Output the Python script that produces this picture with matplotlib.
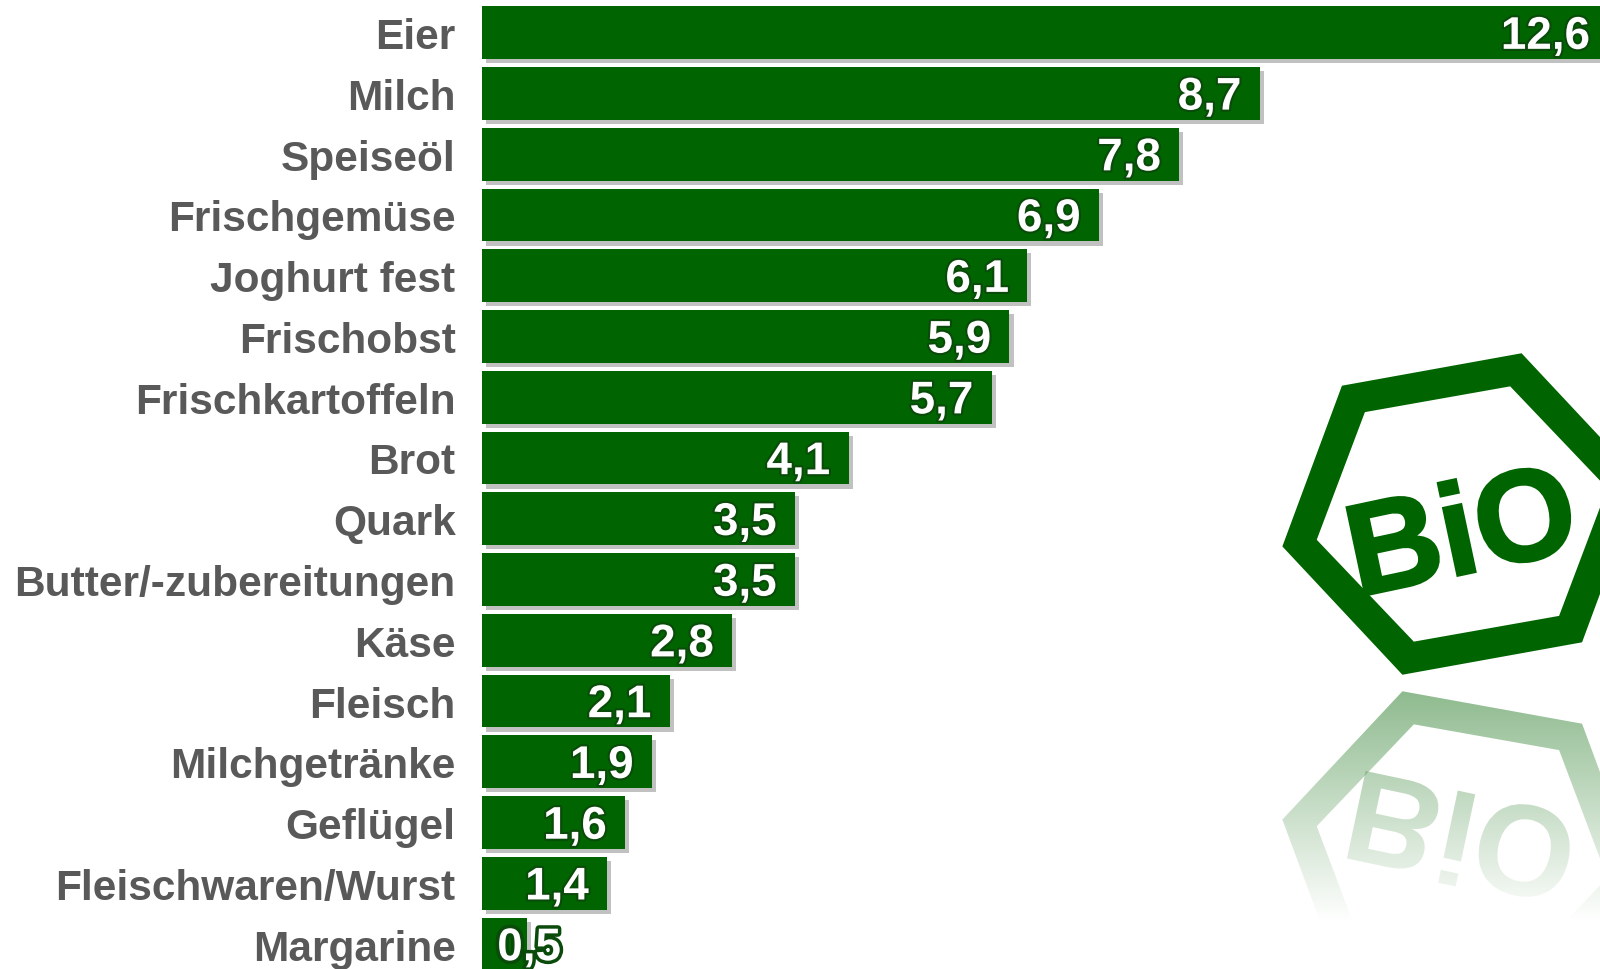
import matplotlib
matplotlib.use('Agg')
import matplotlib.pyplot as plt
import numpy as np
from matplotlib import patheffects as pe
from matplotlib.patches import PathPatch
from matplotlib.path import Path
from matplotlib.textpath import TextPath
from matplotlib.font_manager import FontProperties
from matplotlib.transforms import Affine2D

categories = ["Eier", "Milch", "Speiseöl", "Frischgemüse", "Joghurt fest", "Frischobst",
              "Frischkartoffeln", "Brot", "Quark", "Butter/-zubereitungen", "Käse", "Fleisch",
              "Milchgetränke", "Geflügel", "Fleischwaren/Wurst", "Margarine"]
values = [12.6, 8.7, 7.8, 6.9, 6.1, 5.9, 5.7, 4.1, 3.5, 3.5, 2.8, 2.1, 1.9, 1.6, 1.4, 0.5]
value_labels = ["12,6", "8,7", "7,8", "6,9", "6,1", "5,9", "5,7", "4,1", "3,5", "3,5",
                "2,8", "2,1", "1,9", "1,6", "1,4", "0,5"]

GREEN = '#006400'
GRAY = '#595959'
FONT = 'Liberation Sans'

fig = plt.figure(figsize=(16, 9.7), dpi=100)
fig.patch.set_facecolor('white')

# ---- decorative BIO logo (pixel coordinate overlay) ----
lax = fig.add_axes([0, 0, 1, 1], zorder=0)
lax.set_xlim(0, 1600)
lax.set_ylim(970, 0)
lax.axis('off')

cx, cy = 1462, 515
angles = np.deg2rad(169 + 60 * np.arange(6))


def hexagon(rx, ry):
    return np.column_stack([cx + rx * np.cos(angles), cy + ry * np.sin(angles)])


outer = hexagon(183, 170)
inner = hexagon(148, 135)[::-1]
verts = np.vstack([outer, outer[:1], inner, inner[:1]])
codes = ([Path.MOVETO] + [Path.LINETO] * 5 + [Path.CLOSEPOLY]) * 2
ring = Path(verts, codes)
mirror = Affine2D().scale(1, -1).translate(0, 2 * 684)

lax.add_patch(PathPatch(ring, facecolor=GREEN, edgecolor='none', zorder=3))
lax.add_patch(PathPatch(mirror.transform_path(ring), facecolor=GREEN, edgecolor='none',
                        alpha=0.45, zorder=2))

tp = TextPath((0, 0), "BiO", size=130, prop=FontProperties(family=FONT, weight='bold'))
bb = tp.get_extents()
tr = (Affine2D().translate(-(bb.x0 + bb.x1) / 2, -(bb.y0 + bb.y1) / 2)
      .scale(1, -1).rotate_deg(-12).translate(1462, 528))
lax.add_patch(PathPatch(tr.transform_path(tp), facecolor=GREEN, edgecolor=GREEN, lw=2, zorder=3))
lax.add_patch(PathPatch((tr + mirror).transform_path(tp), facecolor=GREEN, edgecolor='none',
                        alpha=0.45, zorder=2))

grad = np.ones((200, 2, 4))
grad[:, :, 3] = np.clip(np.linspace(0, 1.25, 200), 0, 1)[:, None]
lax.imshow(grad, extent=(1200, 1600, 980, 686), aspect='auto', zorder=4)
lax.set_xlim(0, 1600)
lax.set_ylim(970, 0)

# ---- bar chart ----
ax = fig.add_axes([0.30125, -0.0056, 0.704, 1.0022], zorder=1)
ax.patch.set_alpha(0)
y = np.arange(len(categories))
bars = ax.barh(y, values, height=0.87, color=GREEN)
for b in bars:
    b.set_path_effects([pe.SimplePatchShadow(offset=(3, -3), shadow_rgbFace='#777777', alpha=0.45),
                        pe.Normal()])
ax.set_xlim(0, 12.6)
ax.set_ylim(len(categories) - 0.5, -0.5)
for s in ax.spines.values():
    s.set_visible(False)
ax.set_xticks([])
ax.set_yticks(y)
ax.set_yticklabels(categories, fontsize=30.5, color=GRAY, fontweight='bold', family=FONT)
ax.tick_params(axis='y', length=0, pad=19)

for i, (v, lbl) in enumerate(zip(values, value_labels)):
    if v < 1:
        xy, off, ha, sw = (0, i), (11, -3), 'left', 5
    else:
        xy, off, ha, sw = (v, i), (-13, -3), 'right', 3
    ax.annotate(lbl, xy, xytext=off, textcoords='offset points', ha=ha, va='center',
                color='white', fontsize=33, fontweight='bold', family=FONT,
                path_effects=[pe.withStroke(linewidth=sw, foreground='#0a4a0a')])

fig.savefig('out.png', dpi=100, facecolor='white')
